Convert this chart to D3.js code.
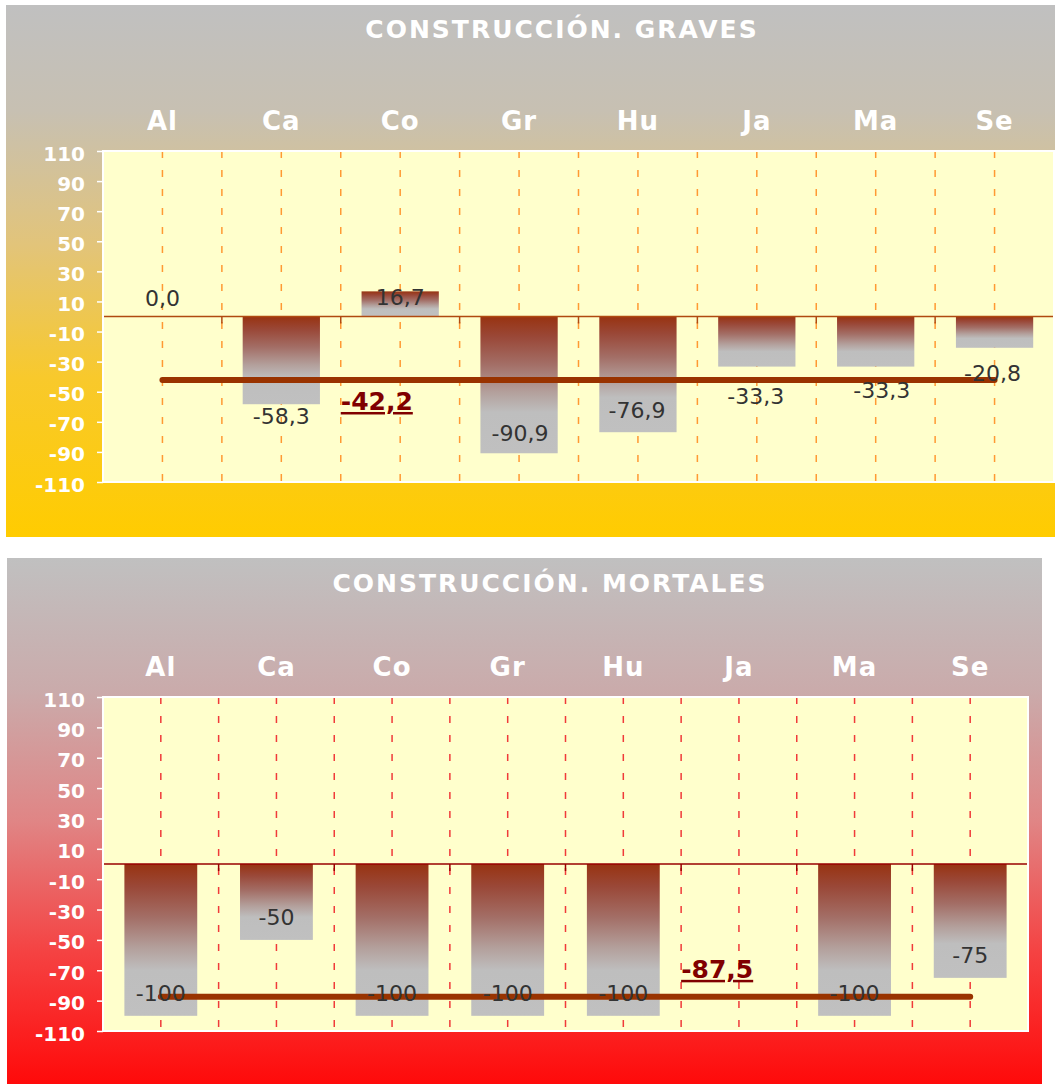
<!DOCTYPE html>
<html>
<head>
<meta charset="utf-8">
<script src="https://cdn.jsdelivr.net/npm/d3@7"></script>
<style>
  body { margin: 0; background: #ffffff; }
  text { font-family: "DejaVu Sans", Verdana, sans-serif; }
</style>
</head>
<body>
<script>
// categories and values
const categories = ["Al", "Ca", "Co", "Gr", "Hu", "Ja", "Ma", "Se"];
const graves = [0.0, -58.3, 16.7, -90.9, -76.9, -33.3, -33.3, -20.8];
const mortales = [-100, -50, -100, -100, -100, null, -100, -75];
const avgGraves = -42.2;
const avgMortales = -87.5;
const yTicks = [110, 90, 70, 50, 30, 10, -10, -30, -50, -70, -90, -110];

const locale = d3.formatLocale({ decimal: ",", thousands: ".", grouping: [3], currency: ["", "€"], minus: "-" });

const svg = d3.select("body").append("svg")
    .attr("width", 1055)
    .attr("height", 1084);
const defs = svg.append("defs");

function gradient(id, stops) {
  const g = defs.append("linearGradient").attr("id", id)
      .attr("x1", 0).attr("y1", 0).attr("x2", 0).attr("y2", 1);
  stops.forEach(s => g.append("stop").attr("offset", s[0]).attr("stop-color", s[1]));
}

gradient("bgYellow", [[0, "#c0c0c0"], [0.2, "#c7c0b2"], [0.45, "#e2c47a"], [0.7, "#f8c92c"], [1, "#ffcc00"]]);
gradient("bgRed", [[0, "#c0c0c0"], [0.25, "#caabab"], [0.5, "#e08585"], [0.75, "#f54242"], [1, "#ff0a0a"]]);
gradient("barFill", [[0, "#983311"], [0.15, "#9a4838"], [0.35, "#a36e66"], [0.55, "#b39f9b"], [0.7, "#bebebe"], [1, "#c0c0c0"]]);

// layout of each panel (pixels) kept apart from the data
const charts = [
  {
    title: "CONSTRUCCIÓN. GRAVES", titleX: 562, titleY: 38,
    values: graves, avg: avgGraves, fmt: locale.format(".1f"),
    panel: { x: 6, y: 5, w: 1052, h: 532 }, bg: "url(#bgYellow)",
    plot: { x0: 103, x1: 1054, y0: 151, y1: 482 },
    pad: 0.35, grid: "#ff9933", zero: "#b04a10",
    labelDy: [-18, 12, 6, -20, -22, 29, 23, 25],
    labelDx: [0, 0, 0, 1, -1, -1, 6, -2],
    avgLabelBand: 2, avgLabelDy: 21
  },
  {
    title: "CONSTRUCCIÓN. MORTALES", titleX: 550, titleY: 592,
    values: mortales, avg: avgMortales, fmt: locale.format("d"),
    panel: { x: 7, y: 558, w: 1035, h: 526 }, bg: "url(#bgRed)",
    plot: { x0: 103, x1: 1028, y0: 697, y1: 1031 },
    pad: 0.37, grid: "#f03a3a", zero: "#990000",
    labelDy: [-23, -23, -23, -23, -23, -23, -23, -23],
    labelDx: [0, 0, 0, 0, 0, 0, 0, 0],
    avgLabelBand: 5, avgLabelDy: -28
  }
];

charts.forEach(cfg => {
  const g = svg.append("g");
  const p = cfg.plot;

  g.append("rect")
      .attr("x", cfg.panel.x).attr("y", cfg.panel.y)
      .attr("width", cfg.panel.w).attr("height", cfg.panel.h)
      .attr("fill", cfg.bg);

  g.append("text")
      .attr("x", cfg.titleX).attr("y", cfg.titleY)
      .attr("text-anchor", "middle")
      .attr("fill", "#ffffff")
      .attr("font-size", 25).attr("font-weight", "bold")
      .attr("letter-spacing", 2)
      .text(cfg.title);

  g.append("rect")
      .attr("x", p.x0).attr("y", p.y0)
      .attr("width", p.x1 - p.x0).attr("height", p.y1 - p.y0)
      .attr("fill", "#ffffcc");

  const x = d3.scaleBand()
      .domain(categories)
      .range([p.x0, p.x1])
      .paddingInner(cfg.pad)
      .paddingOuter(cfg.pad / 2);
  const step = x.step();

  const y = d3.scaleLinear()
      .domain([-110, 110])
      .range([p.y1, p.y0]);

  // dashed verticals: category centres and band boundaries
  const centres = categories.map(c => x(c) + x.bandwidth() / 2);
  const bounds = d3.range(1, categories.length).map(i => p.x0 + i * step);
  g.selectAll(".grid")
    .data(centres.concat(bounds))
    .enter().append("line")
      .attr("x1", d => d).attr("x2", d => d)
      .attr("y1", p.y0).attr("y2", p.y1)
      .attr("stroke", cfg.grid)
      .attr("stroke-width", 1.5)
      .attr("stroke-dasharray", "7,12");

  const rows = categories.map((c, i) => ({ c: c, v: cfg.values[i], i: i }))
      .filter(d => d.v !== null);

  g.selectAll(".bar")
    .data(rows.filter(d => d.v !== 0))
    .enter().append("rect")
      .attr("x", d => x(d.c))
      .attr("y", d => y(Math.max(0, d.v)))
      .attr("width", x.bandwidth())
      .attr("height", d => Math.abs(y(d.v) - y(0)))
      .attr("fill", "url(#barFill)");

  // zero line with category ticks
  g.append("line")
      .attr("x1", p.x0).attr("x2", p.x1)
      .attr("y1", y(0)).attr("y2", y(0))
      .attr("stroke", cfg.zero).attr("stroke-width", 1.5);
  g.selectAll(".ctick")
    .data(d3.range(0, categories.length + 1).map(i => p.x0 + i * step))
    .enter().append("line")
      .attr("x1", d => d).attr("x2", d => d)
      .attr("y1", y(0)).attr("y2", y(0) + 7)
      .attr("stroke", cfg.zero).attr("stroke-width", 1.5);

  // average line
  g.append("line")
      .attr("x1", centres[0]).attr("x2", centres[centres.length - 1])
      .attr("y1", y(cfg.avg)).attr("y2", y(cfg.avg))
      .attr("stroke", "#993300")
      .attr("stroke-width", 6)
      .attr("stroke-linecap", "round");

  g.selectAll(".lbl")
    .data(rows)
    .enter().append("text")
      .attr("x", d => x(d.c) + x.bandwidth() / 2 + cfg.labelDx[d.i])
      .attr("y", d => y(d.v) + cfg.labelDy[d.i])
      .attr("dy", "0.36em")
      .attr("text-anchor", "middle")
      .attr("font-size", 22)
      .attr("fill", "#333333")
      .text(d => cfg.fmt(d.v));

  g.append("text")
      .attr("x", p.x0 + cfg.avgLabelBand * step)
      .attr("y", y(cfg.avg) + cfg.avgLabelDy)
      .attr("dy", "0.36em")
      .attr("font-size", 25).attr("font-weight", "bold")
      .attr("fill", "#800000")
      .style("text-decoration", "underline")
      .text(locale.format(".1f")(cfg.avg));

  g.append("rect")
      .attr("x", p.x0).attr("y", p.y0)
      .attr("width", p.x1 - p.x0).attr("height", p.y1 - p.y0)
      .attr("fill", "none")
      .attr("stroke", "#ffffff").attr("stroke-width", 2);

  const yAxis = g.append("g")
      .attr("transform", `translate(${p.x0},0)`)
      .call(d3.axisLeft(y).tickValues(yTicks).tickSize(6).tickPadding(12).tickFormat(locale.format("d")));
  yAxis.select(".domain").remove();
  yAxis.selectAll("line").attr("stroke", "#ffffff").attr("stroke-width", 1.5);
  yAxis.selectAll("text")
      .attr("dy", "0.45em")
      .attr("fill", "#ffffff")
      .attr("font-size", 20)
      .attr("font-weight", "bold")
      .style("font-family", "'DejaVu Sans', Verdana, sans-serif");

  const xAxis = g.append("g")
      .attr("transform", `translate(0,${p.y0})`)
      .call(d3.axisTop(x).tickSize(0).tickPadding(21));
  xAxis.select(".domain").remove();
  xAxis.selectAll("text")
      .attr("fill", "#ffffff")
      .attr("font-size", 26)
      .attr("font-weight", "bold")
      .attr("letter-spacing", 1)
      .style("font-family", "'DejaVu Sans', Verdana, sans-serif");
});
</script>
</body>
</html>
